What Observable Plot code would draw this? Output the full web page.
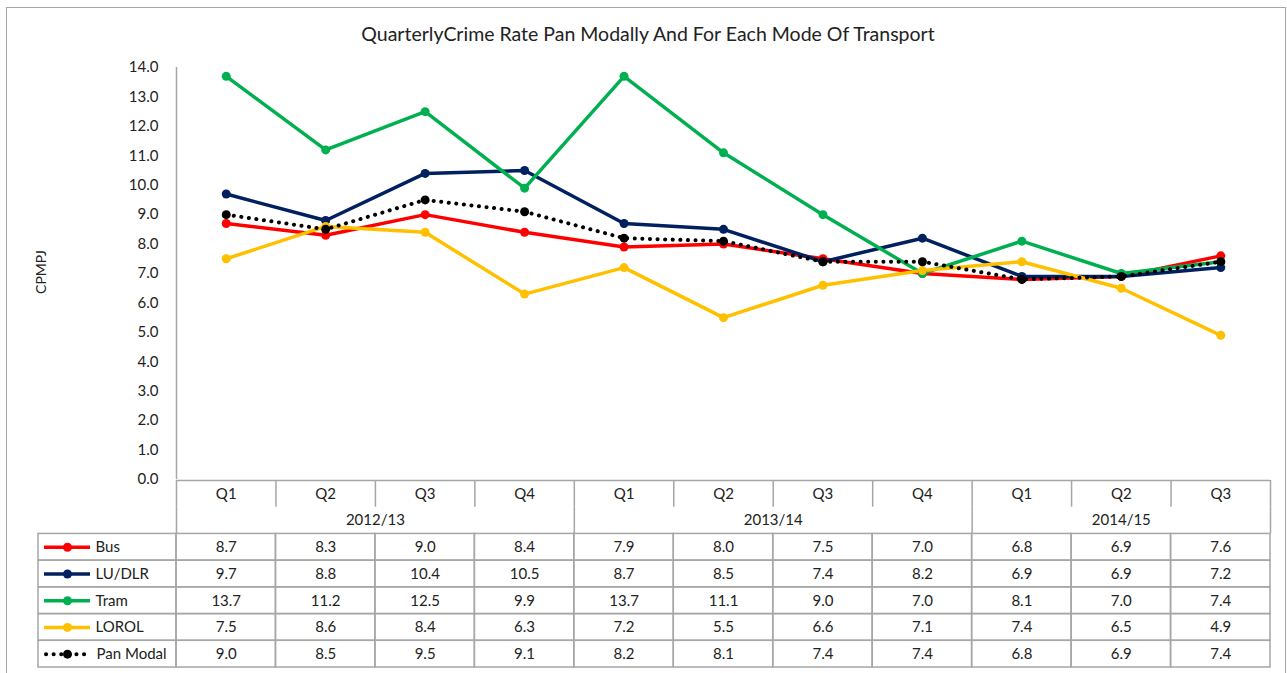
<!DOCTYPE html>
<html><head><meta charset="utf-8">
<script src="https://cdn.jsdelivr.net/npm/d3@7"></script>
<script src="https://cdn.jsdelivr.net/npm/@observablehq/plot@0.6"></script>
<style>
body{margin:0;background:#fff;font-family:Lato,"Open Sans",sans-serif;}
#wrap{position:relative;width:1287px;height:673px;overflow:hidden;background:#fff;}
#frame{position:absolute;left:6px;top:7px;width:1278px;height:700px;border:1px solid #a6a6a6;}
#title{position:absolute;left:0;width:1296px;top:22px;text-align:center;font-size:19.5px;color:#222;}
#ylab{position:absolute;left:40px;top:272px;transform:translate(-50%,-50%) rotate(-90deg);font-size:14px;color:#222;}
#chart{position:absolute;left:0;top:50px;}
#table{position:absolute;left:0;top:480px;}
</style></head>
<body>
<div id="wrap">
  <div id="frame"></div>
  <div id="title">QuarterlyCrime Rate Pan Modally And For Each Mode Of Transport</div>
  <div id="ylab">CPMPJ</div>
  <div id="chart"></div>
  <div id="table"></div>
</div>
<script>
const quarters = ["Q1","Q2","Q3","Q4","Q1","Q2","Q3","Q4","Q1","Q2","Q3"];
const quarterYear = ["2012/13","2012/13","2012/13","2012/13","2013/14","2013/14","2013/14","2013/14","2014/15","2014/15","2014/15"];
const seriesNames = ["Bus","LU/DLR","Tram","LOROL","Pan Modal"];
const seriesColors = ["#ff0000","#002060","#00b050","#ffc000","#000000"];
const bus   = [8.7,8.3,9.0,8.4,7.9,8.0,7.5,7.0,6.8,6.9,7.6];
const luDlr = [9.7,8.8,10.4,10.5,8.7,8.5,7.4,8.2,6.9,6.9,7.2];
const tram  = [13.7,11.2,12.5,9.9,13.7,11.1,9.0,7.0,8.1,7.0,7.4];
const lorol = [7.5,8.6,8.4,6.3,7.2,5.5,6.6,7.1,7.4,6.5,4.9];
const panModal = [9.0,8.5,9.5,9.1,8.2,8.1,7.4,7.4,6.8,6.9,7.4];
const yTicks = d3.range(0, 15, 1);

const seriesValues = [bus, luDlr, tram, lorol, panModal];
const rows = [];
seriesNames.forEach((s, k) => seriesValues[k].forEach((v, i) => rows.push({series: s, i, x: i + 0.5, value: v})));
const solid = rows.filter(d => d.series !== "Pan Modal");
const dotted = rows.filter(d => d.series === "Pan Modal");

const W = 1287, ML = 176, MR = 17;
const n = quarters.length;
const colW = (W - ML - MR) / n;
const toU = px => (px - ML) / colW;
const gridColor = "#a6a6a6";
const color = {domain: seriesNames, range: seriesColors};
const baseStyle = {fontFamily: "Lato, sans-serif", fontSize: "15px", color: "#222", background: "transparent", overflow: "visible"};

const chart = Plot.plot({
  width: W, height: 430,
  marginLeft: ML, marginRight: MR, marginTop: 17, marginBottom: 1,
  style: baseStyle,
  x: {domain: [0, n], axis: null},
  y: {domain: [0, 14], ticks: yTicks, tickFormat: d3.format(".1f"), tickSize: 0, tickPadding: 18, label: null},
  color,
  marks: [
    Plot.ruleX([0], {stroke: gridColor, strokeWidth: 1.5}),
    Plot.line(solid, {x: "x", y: "value", z: "series", stroke: "series", strokeWidth: 3.5}),
    Plot.dot(solid, {x: "x", y: "value", fill: "series", r: 4.5}),
    Plot.line(dotted, {x: "x", y: "value", stroke: "#000", strokeWidth: 4, strokeDasharray: "0.1 7.5", strokeLinecap: "round"}),
    Plot.dot(dotted, {x: "x", y: "value", fill: "#000", r: 4.5})
  ]
});
document.getElementById("chart").appendChild(chart);

// table: rows 0 = quarter, 1 = year, 2.. = series
const rowIndex = s => 2 + seriesNames.indexOf(s);
const qCells = quarters.map((q, i) => ({q, i}));
const yearGroups = [];
quarterYear.forEach((y, i) => {
  const g = yearGroups[yearGroups.length - 1];
  if (g && g.year === y) g.end = i + 1; else yearGroups.push({year: y, start: i, end: i + 1});
});
const yearBounds = [0, ...yearGroups.map(g => g.end)];
const legendLeft = toU(38);
const tableRows = [];
seriesNames.forEach((s, k) => seriesValues[k].forEach((v, i) => tableRows.push({series: s, i, value: v})));
const totalRows = 2 + seriesNames.length;

const table = Plot.plot({
  width: W, height: 188,
  marginLeft: ML, marginRight: MR, marginTop: 0, marginBottom: 1,
  style: baseStyle,
  x: {domain: [0, n], axis: null},
  y: {domain: [totalRows, 0], axis: null},
  color,
  marks: [
    Plot.ruleY([0], {x1: 0, x2: n, stroke: gridColor, strokeWidth: 1.5}),
    Plot.ruleX(d3.range(n + 1), {x: d => d, y1: 0, y2: 1, stroke: gridColor, strokeWidth: 1.5}),
    Plot.ruleX(yearBounds, {x: d => d, y1: 1, y2: 2, stroke: gridColor, strokeWidth: 1.5}),
    Plot.rect(tableRows, {x1: "i", x2: d => d.i + 1, y1: d => rowIndex(d.series), y2: d => rowIndex(d.series) + 1, stroke: gridColor, strokeWidth: 1.5, fill: "none"}),
    Plot.rect(seriesNames, {x1: legendLeft, x2: 0, y1: d => rowIndex(d), y2: d => rowIndex(d) + 1, stroke: gridColor, strokeWidth: 1.5, fill: "none"}),
    Plot.text(qCells, {x: d => d.i + 0.5, y: 0.5, text: "q", fill: "#222"}),
    Plot.text(yearGroups, {x: d => (d.start + d.end) / 2, y: 1.5, text: "year", fill: "#222"}),
    Plot.text(tableRows, {x: d => d.i + 0.5, y: d => rowIndex(d.series) + 0.5, text: d => d3.format(".1f")(d.value), fill: "#222"}),
    // legend swatches
    Plot.ruleY(seriesNames.filter(s => s !== "Pan Modal"), {y: d => rowIndex(d) + 0.5, x1: toU(44), x2: toU(90), stroke: d => d, strokeWidth: 3.5}),
    Plot.ruleY(["Pan Modal"], {y: d => rowIndex(d) + 0.5, x1: toU(46), x2: toU(90), stroke: "#000", strokeWidth: 4, strokeDasharray: "0.1 7.5", strokeLinecap: "round"}),
    Plot.dot(seriesNames, {x: toU(67), y: d => rowIndex(d) + 0.5, fill: d => d, r: 4.5}),
    Plot.text(seriesNames, {x: d => toU(d === "Pan Modal" ? 96 : 95), y: d => rowIndex(d) + 0.5, text: d => d, textAnchor: "start", fill: "#222"})
  ]
});
document.getElementById("table").appendChild(table);
</script>
</body></html>
